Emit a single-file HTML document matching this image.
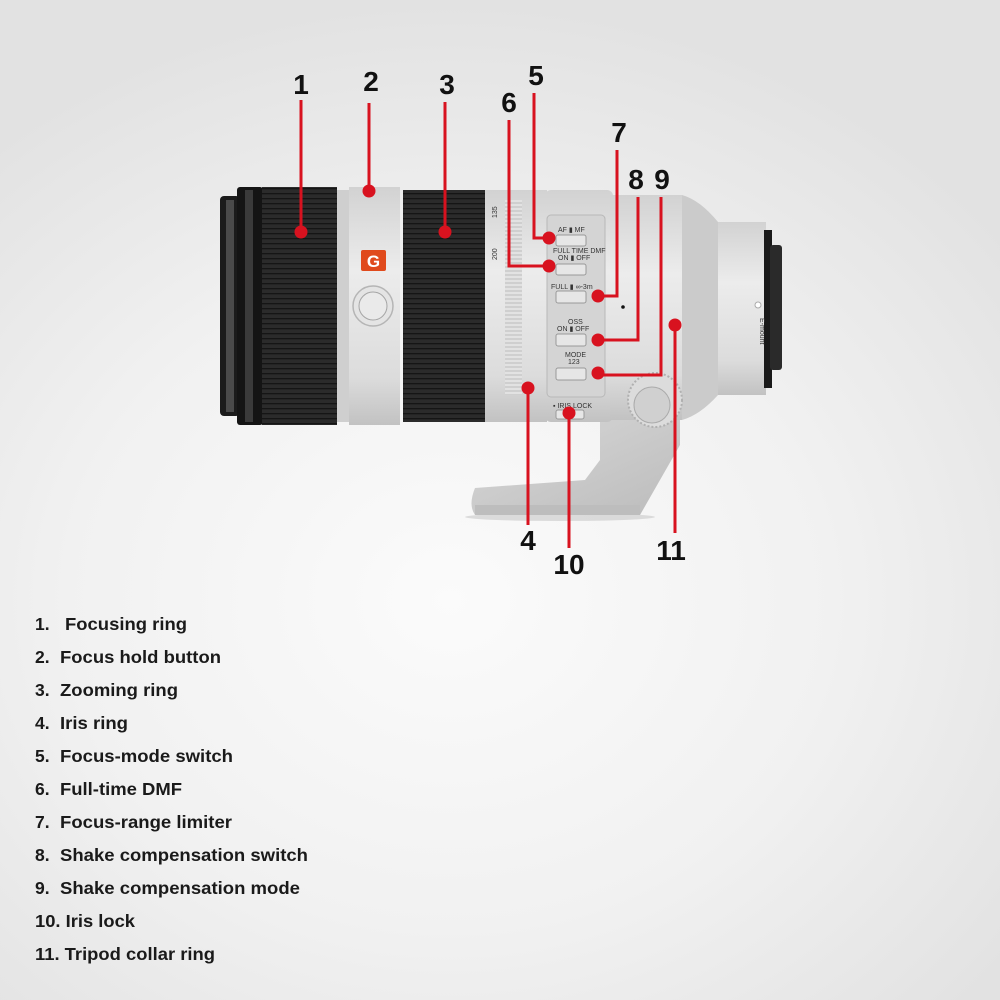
<!DOCTYPE html>
<html><head><meta charset="utf-8"><style>
html,body{margin:0;padding:0;width:1000px;height:1000px;overflow:hidden}
body{background:radial-gradient(ellipse 70% 60% at 45% 60%,#fbfbfb 0%,#f1f1f1 55%,#e2e2e2 100%)}
svg{position:absolute;left:0;top:0}
.n{font:bold 28px "Liberation Sans",sans-serif;fill:#111;text-anchor:middle}
.l{font:bold 17.5px "Liberation Sans",sans-serif;fill:#1a1a1a}
.s{font:7px "Liberation Sans",sans-serif;fill:#333}
</style></head><body>
<svg width="1000" height="1000" viewBox="0 0 1000 1000">
<defs>
<linearGradient id="sv" x1="0" y1="0" x2="0" y2="1"><stop offset="0" stop-color="#d2d2d2"/><stop offset=".35" stop-color="#ececec"/><stop offset=".8" stop-color="#dcdcdc"/><stop offset="1" stop-color="#c2c2c2"/></linearGradient>
<linearGradient id="ft" x1="0" y1="0" x2="1" y2="1"><stop offset="0" stop-color="#d8d8d8"/><stop offset="1" stop-color="#bcbcbc"/></linearGradient>
<pattern id="rib" width="4" height="5" patternUnits="userSpaceOnUse"><rect width="4" height="5" fill="#2b2b2b"/><rect y="3" width="4" height="1.3" fill="#151515"/></pattern>
<pattern id="rib2" width="4" height="4" patternUnits="userSpaceOnUse"><rect width="4" height="4" fill="#e2e2e2"/><rect y="2.5" width="4" height="1" fill="#bcbcbc"/></pattern>
</defs>
<!-- foot -->
<ellipse cx="560" cy="517" rx="95" ry="4" fill="#cfcfcf" opacity=".7"/>
<path d="M600 420 L680 420 L680 445 L640 515 L475 515 Q468 505 475 488 L585 480 L600 460 Z" fill="url(#ft)"/>
<path d="M475 505 L640 505 L640 515 L475 515 Z" fill="#bdbdbd"/>
<!-- front -->
<rect x="220" y="196" width="20" height="220" rx="4" fill="#1b1b1b"/>
<rect x="226" y="200" width="8" height="212" fill="#4a4a4a"/>
<rect x="237" y="187" width="26" height="238" rx="3" fill="#141414"/>
<rect x="245" y="190" width="8" height="232" fill="#3a3a3a"/>
<rect x="262" y="187" width="75" height="238" fill="url(#rib)"/>
<rect x="337" y="190" width="12" height="232" fill="#cfcfcf"/>
<rect x="349" y="187" width="51" height="238" fill="url(#sv)"/>
<rect x="361" y="250" width="25" height="21" rx="2" fill="#e04a1c"/>
<text x="373.5" y="267" text-anchor="middle" style="font:bold 17px 'Liberation Sans',sans-serif;fill:#fff">G</text>
<circle cx="373" cy="306" r="20" fill="#e4e4e4" stroke="#b5b5b5" stroke-width="1.5"/>
<circle cx="373" cy="306" r="14" fill="#eaeaea" stroke="#a5a5a5" stroke-width="1"/>
<rect x="403" y="190" width="82" height="232" fill="url(#rib)"/>
<rect x="485" y="190" width="62" height="232" fill="url(#sv)"/>
<rect x="505" y="200" width="17" height="195" fill="url(#rib2)"/>
<text class="s" transform="translate(497,260) rotate(-90)">200</text>
<text class="s" transform="translate(497,218) rotate(-90)">135</text>
<!-- switch section -->
<rect x="545" y="190" width="68" height="232" rx="6" fill="url(#sv)"/>
<rect x="547" y="215" width="58" height="182" rx="4" fill="#d4d4d4" stroke="#b8b8b8"/>
<g class="s">
<text x="558" y="232">AF ▮ MF</text>
<text x="553" y="253">FULL TIME DMF</text><text x="558" y="260">ON ▮ OFF</text>
<text x="551" y="289">FULL ▮ ∞-3m</text>
<text x="568" y="324">OSS</text><text x="557" y="331">ON ▮ OFF</text>
<text x="565" y="357">MODE</text><text x="568" y="364">123</text>
<text x="553" y="408">▪ IRIS LOCK</text>
</g>
<g fill="#e6e6e6" stroke="#999">
<rect x="556" y="235" width="30" height="11" rx="2"/><rect x="556" y="264" width="30" height="11" rx="2"/>
<rect x="556" y="291" width="30" height="12" rx="2"/><rect x="556" y="334" width="30" height="12" rx="2"/>
<rect x="556" y="368" width="30" height="12" rx="2"/><rect x="556" y="410" width="28" height="9" rx="2"/>
</g>
<!-- body/collar -->
<rect x="610" y="195" width="72" height="225" fill="url(#sv)"/>
<path d="M682 195 Q700 200 718 222 L718 395 Q700 415 682 420 Z" fill="#cbcbcb"/>
<rect x="718" y="222" width="48" height="173" fill="url(#sv)"/>
<rect x="764" y="230" width="8" height="158" fill="#1a1a1a"/>
<rect x="770" y="245" width="12" height="125" rx="3" fill="#2a2a2a"/>
<circle cx="758" cy="305" r="3" fill="#fff" stroke="#aaa"/>
<text class="s" transform="translate(760,318) rotate(90)">E-mount</text>
<circle cx="623" cy="307" r="1.8" fill="#111"/>
<!-- knob -->
<circle cx="655" cy="400" r="27" fill="#dcdcdc" stroke="#b0b0b0" stroke-width="2" stroke-dasharray="2 2"/>
<circle cx="652" cy="405" r="18" fill="#d0d0d0" stroke="#aaa"/>
<!-- callouts -->
<g stroke="#d8121f" stroke-width="3" fill="none">
<path d="M301 100V232"/><path d="M369 103V191"/><path d="M445 102V232"/>
<path d="M534 93V238H549"/><path d="M509 120V266H549"/>
<path d="M617 150V296H598"/><path d="M638 197V340H598"/><path d="M661 197V375H598"/>
<path d="M528 388V525"/><path d="M569 413V548"/><path d="M675 325V533"/>
</g>
<g fill="#d8121f">
<circle cx="301" cy="232" r="6.5"/><circle cx="369" cy="191" r="6.5"/><circle cx="445" cy="232" r="6.5"/>
<circle cx="549" cy="238" r="6.5"/><circle cx="549" cy="266" r="6.5"/><circle cx="598" cy="296" r="6.5"/>
<circle cx="598" cy="340" r="6.5"/><circle cx="598" cy="373" r="6.5"/><circle cx="528" cy="388" r="6.5"/>
<circle cx="569" cy="413" r="6.5"/><circle cx="675" cy="325" r="6.5"/>
</g>
<text class="n" x="301" y="94">1</text><text class="n" x="371" y="91">2</text><text class="n" x="447" y="94">3</text>
<text class="n" x="536" y="85">5</text><text class="n" x="509" y="112">6</text><text class="n" x="619" y="142">7</text>
<text class="n" x="636" y="189">8</text><text class="n" x="662" y="189">9</text>
<text class="n" x="528" y="550">4</text><text class="n" x="569" y="574">10</text><text class="n" x="671" y="560">11</text>
<!-- legend -->
<g class="l">
<text x="35" y="630">1.</text><text x="65" y="630" textLength="122" lengthAdjust="spacingAndGlyphs">Focusing ring</text>
<text x="35" y="663">2.</text><text x="60" y="663" textLength="161" lengthAdjust="spacingAndGlyphs">Focus hold button</text>
<text x="35" y="696">3.</text><text x="60" y="696" textLength="118" lengthAdjust="spacingAndGlyphs">Zooming ring</text>
<text x="35" y="729">4.</text><text x="60" y="729" textLength="68" lengthAdjust="spacingAndGlyphs">Iris ring</text>
<text x="35" y="762">5.</text><text x="60" y="762" textLength="173" lengthAdjust="spacingAndGlyphs">Focus-mode switch</text>
<text x="35" y="795">6.</text><text x="60" y="795" textLength="122" lengthAdjust="spacingAndGlyphs">Full-time DMF</text>
<text x="35" y="828">7.</text><text x="60" y="828" textLength="172" lengthAdjust="spacingAndGlyphs">Focus-range limiter</text>
<text x="35" y="861">8.</text><text x="60" y="861" textLength="248" lengthAdjust="spacingAndGlyphs">Shake compensation switch</text>
<text x="35" y="894">9.</text><text x="60" y="894" textLength="240" lengthAdjust="spacingAndGlyphs">Shake compensation mode</text>
<text x="35" y="927" textLength="100" lengthAdjust="spacingAndGlyphs">10. Iris lock</text>
<text x="35" y="960" textLength="180" lengthAdjust="spacingAndGlyphs">11. Tripod collar ring</text>
</g>
</svg>
</body></html>
